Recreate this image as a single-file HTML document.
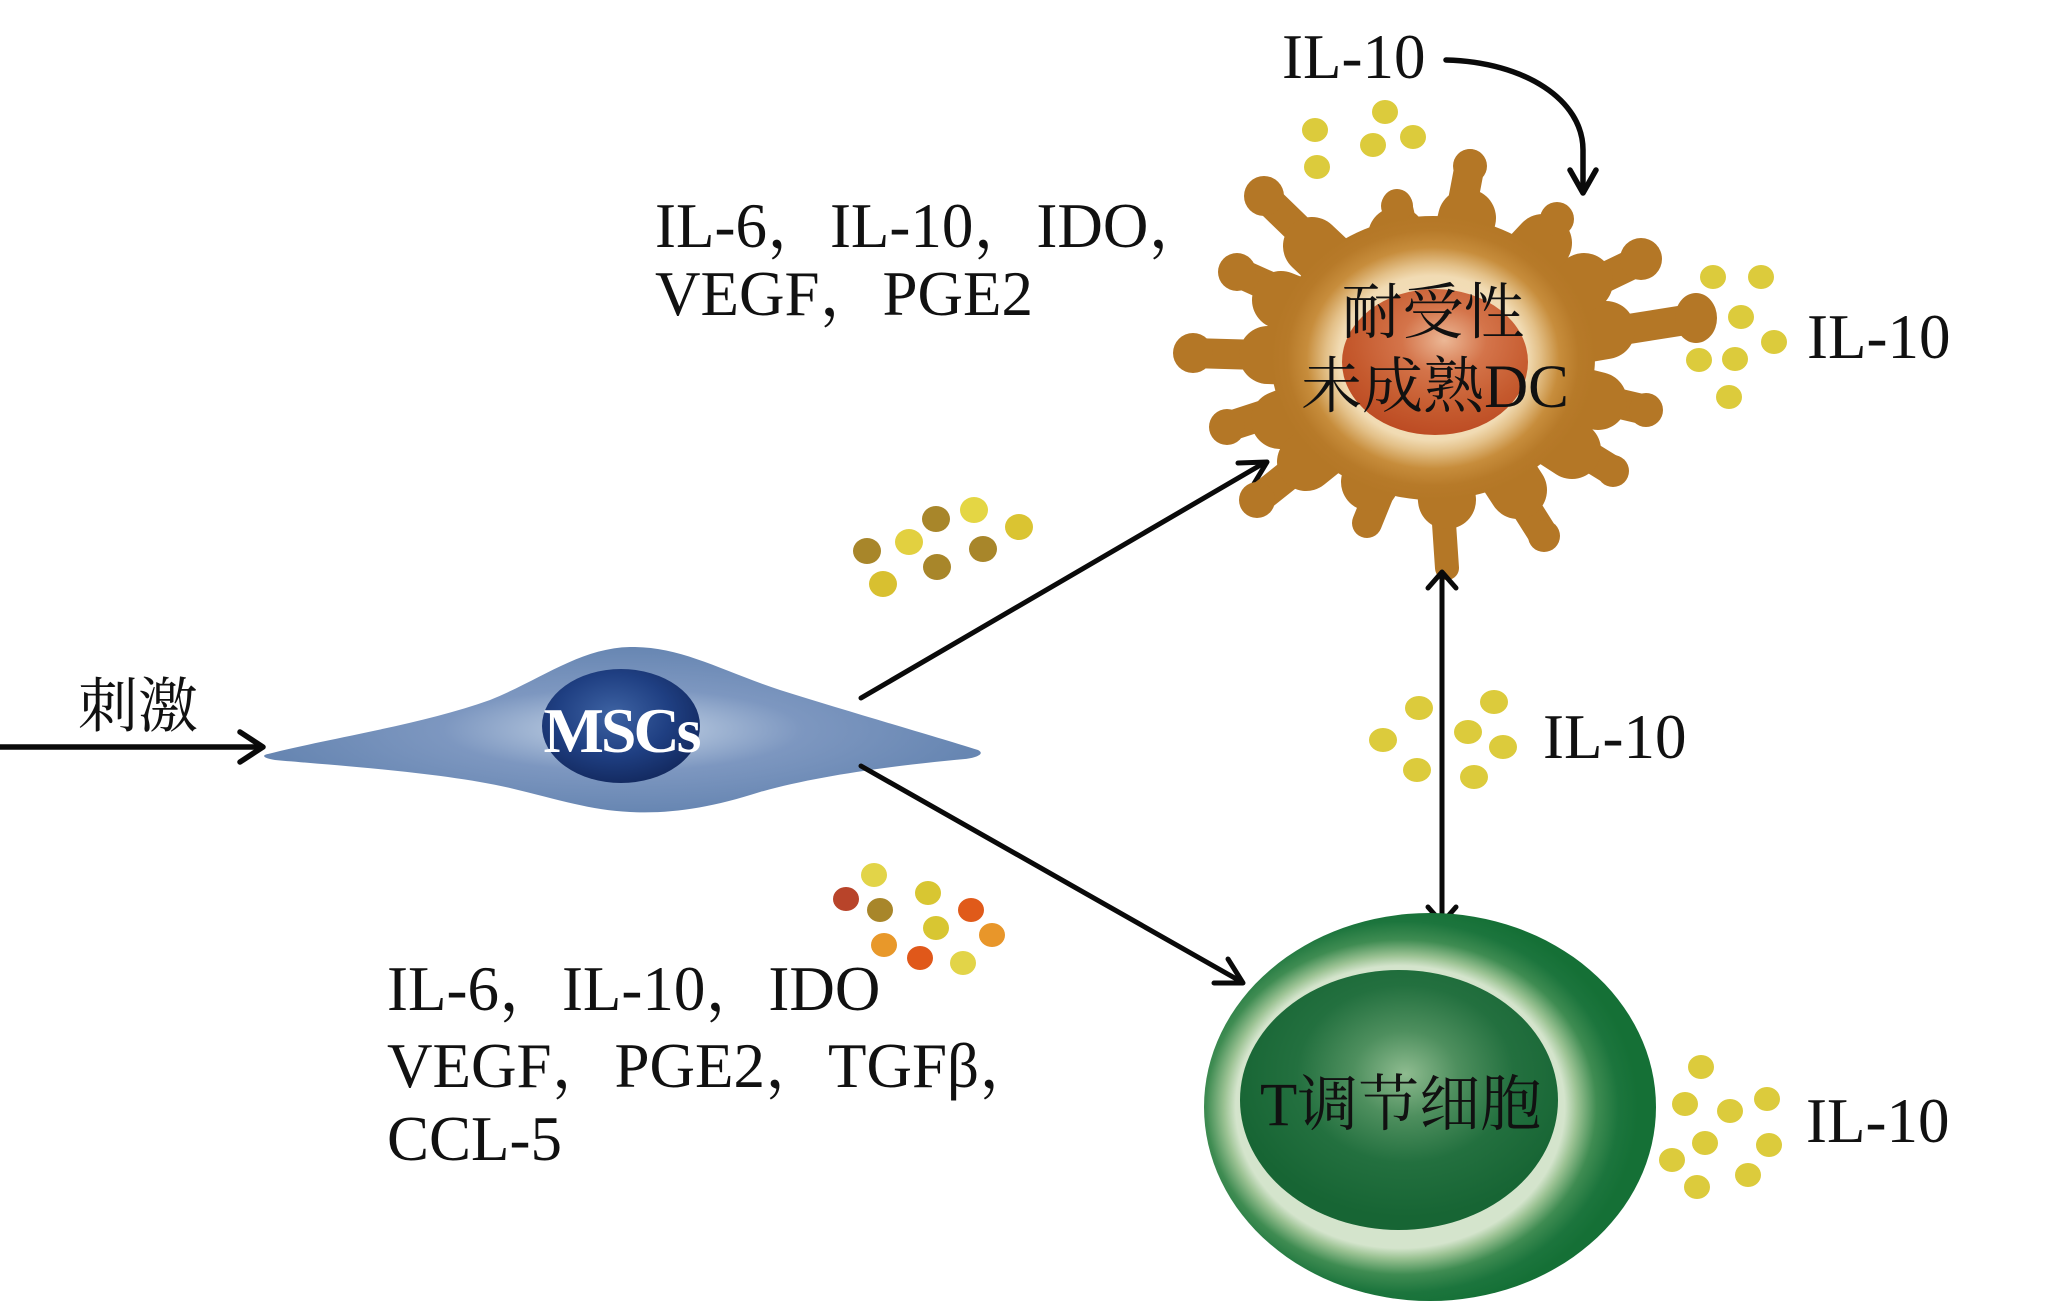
<!DOCTYPE html>
<html>
<head>
<meta charset="utf-8">
<style>
html,body{margin:0;padding:0;background:#fff;}
svg{display:block;}
text{font-family:"Liberation Serif","Noto Serif CJK SC","Noto Serif CJK JP",serif;fill:#111;}
</style>
</head>
<body>
<svg width="2045" height="1314" viewBox="0 0 2045 1314" xmlns="http://www.w3.org/2000/svg">
<defs>
  <radialGradient id="mscBody" cx="0.5" cy="0.5" r="0.5">
    <stop offset="0" stop-color="#c3d0e2"/>
    <stop offset="0.22" stop-color="#a6bad6"/>
    <stop offset="0.5" stop-color="#7d97c0"/>
    <stop offset="1" stop-color="#6786b2"/>
  </radialGradient>
  <radialGradient id="mscNuc" cx="0.45" cy="0.4" r="0.6">
    <stop offset="0" stop-color="#3e63a3"/>
    <stop offset="0.6" stop-color="#1f3f82"/>
    <stop offset="1" stop-color="#142b62"/>
  </radialGradient>
  <radialGradient id="dcBody" cx="0.5" cy="0.5" r="0.5">
    <stop offset="0" stop-color="#f6e8d0"/>
    <stop offset="0.58" stop-color="#f1dbb3"/>
    <stop offset="0.66" stop-color="#e3c088"/>
    <stop offset="0.78" stop-color="#c78d3c"/>
    <stop offset="0.9" stop-color="#b77a29"/>
    <stop offset="1" stop-color="#b47726"/>
  </radialGradient>
  <radialGradient id="dcNuc" cx="0.55" cy="0.35" r="0.65">
    <stop offset="0" stop-color="#ecb896"/>
    <stop offset="0.35" stop-color="#d4744a"/>
    <stop offset="0.75" stop-color="#c55a2e"/>
    <stop offset="1" stop-color="#bd4c24"/>
  </radialGradient>
  <radialGradient id="tOuter" cx="0.44" cy="0.5" r="0.52" fx="0.42" fy="0.5">
    <stop offset="0" stop-color="#d4e4cc"/>
    <stop offset="0.7" stop-color="#d4e4cc"/>
    <stop offset="0.75" stop-color="#9cc394"/>
    <stop offset="0.83" stop-color="#3f8c52"/>
    <stop offset="0.92" stop-color="#1c753d"/>
    <stop offset="1" stop-color="#157036"/>
  </radialGradient>
  <radialGradient id="tNuc" cx="0.52" cy="0.4" r="0.55">
    <stop offset="0" stop-color="#8fbc90"/>
    <stop offset="0.3" stop-color="#4e8f5e"/>
    <stop offset="0.62" stop-color="#23703f"/>
    <stop offset="1" stop-color="#176534"/>
  </radialGradient>
</defs>

<!-- left stimulus arrow -->
<g stroke="#0a0a0a" stroke-width="5.5" fill="none" stroke-linecap="round" stroke-linejoin="round">
  <line x1="0" y1="747" x2="261" y2="747"/>
  <polyline points="240,732 263,747 240,762"/>
</g>
<text x="78" y="727" font-size="60">刺激</text>

<!-- MSC cell -->
<path d="M268,754 C330,738 420,725 490,700 C540,680 580,648 630,647 C680,646 720,670 780,690 C850,712 930,735 978,750 C986,754 975,758 965,759 C900,765 820,775 760,792 C710,808 670,814 630,812 C590,810 560,800 510,788 C440,772 330,765 275,760 C262,758 262,755 268,754 Z" fill="url(#mscBody)"/>
<ellipse cx="621" cy="726" rx="79" ry="57" fill="url(#mscNuc)"/>
<text x="621" y="752" font-size="64" font-weight="bold" text-anchor="middle" letter-spacing="-3" style="fill:#fff">MSCs</text>

<!-- arrows from MSC -->
<g stroke="#0a0a0a" stroke-width="5" fill="none" stroke-linecap="round" stroke-linejoin="round">
  <line x1="861" y1="698" x2="1264" y2="463"/>
  <polyline points="1238,463 1267,462 1252,487"/>
  <line x1="861" y1="766" x2="1240" y2="981"/>
  <polyline points="1214,983 1243,983 1228,959"/>
</g>

<!-- top-left text -->
<text x="655" y="247" font-size="63">IL-6，IL-10，IDO，</text>
<text x="655" y="315" font-size="63">VEGF，PGE2</text>

<!-- bottom-left text -->
<text x="387" y="1010" font-size="63">IL-6，IL-10，IDO</text>
<text x="387" y="1087" font-size="63">VEGF，PGE2，TGFβ，</text>
<text x="387" y="1160" font-size="63">CCL-5</text>

<!-- upper dot cluster -->
<g>
  <ellipse cx="867" cy="551" rx="14" ry="13" fill="#a8862a"/>
  <ellipse cx="909" cy="542" rx="14" ry="13" fill="#e2d040"/>
  <ellipse cx="936" cy="519" rx="14" ry="13" fill="#a8862a"/>
  <ellipse cx="974" cy="510" rx="14" ry="13" fill="#e4d644"/>
  <ellipse cx="1019" cy="527" rx="14" ry="13" fill="#dac432"/>
  <ellipse cx="983" cy="549" rx="14" ry="13" fill="#a8862a"/>
  <ellipse cx="937" cy="567" rx="14" ry="13" fill="#a8862a"/>
  <ellipse cx="883" cy="584" rx="14" ry="13" fill="#d8c030"/>
</g>

<!-- lower dot cluster -->
<g>
  <ellipse cx="874" cy="875" rx="13" ry="12" fill="#e2d448"/>
  <ellipse cx="846" cy="899" rx="13" ry="12" fill="#b8442a"/>
  <ellipse cx="928" cy="893" rx="13" ry="12" fill="#d8c632"/>
  <ellipse cx="880" cy="910" rx="13" ry="12" fill="#a8862a"/>
  <ellipse cx="971" cy="910" rx="13" ry="12" fill="#e05a1a"/>
  <ellipse cx="936" cy="928" rx="13" ry="12" fill="#d8c632"/>
  <ellipse cx="992" cy="935" rx="13" ry="12" fill="#e8962a"/>
  <ellipse cx="884" cy="945" rx="13" ry="12" fill="#e8982a"/>
  <ellipse cx="920" cy="958" rx="13" ry="12" fill="#e0581a"/>
  <ellipse cx="963" cy="963" rx="13" ry="12" fill="#e2d448"/>
</g>

<!-- DC cell dendrites -->
<g stroke="#b47726" stroke-linecap="round" fill="none">
  <g stroke-width="30">
    <line x1="1433" y1="360" x2="1470" y2="164"/>
    <line x1="1433" y1="360" x2="1397" y2="204"/>
    <line x1="1433" y1="360" x2="1264" y2="196"/>
    <line x1="1433" y1="360" x2="1237" y2="272"/>
    <line x1="1433" y1="360" x2="1191" y2="353"/>
    <line x1="1433" y1="360" x2="1227" y2="427"/>
    <line x1="1433" y1="360" x2="1257" y2="500"/>
    <line x1="1433" y1="360" x2="1367" y2="523"/>
    <line x1="1433" y1="360" x2="1447" y2="568" stroke-width="24"/>
    <line x1="1433" y1="360" x2="1544" y2="536"/>
    <line x1="1433" y1="360" x2="1613" y2="471"/>
    <line x1="1433" y1="360" x2="1646" y2="410"/>
    <line x1="1433" y1="360" x2="1698" y2="318"/>
    <line x1="1433" y1="360" x2="1643" y2="259"/>
    <line x1="1433" y1="360" x2="1557" y2="219"/>
  </g>
  <g stroke-width="58">
    <line x1="1433" y1="360" x2="1467" y2="218"/>
    <line x1="1433" y1="360" x2="1397" y2="236"/>
    <line x1="1433" y1="360" x2="1312" y2="246"/>
    <line x1="1433" y1="360" x2="1281" y2="300"/>
    <line x1="1433" y1="360" x2="1268" y2="355"/>
    <line x1="1433" y1="360" x2="1280" y2="420"/>
    <line x1="1433" y1="360" x2="1306" y2="462"/>
    <line x1="1433" y1="360" x2="1370" y2="482"/>
    <line x1="1433" y1="360" x2="1447" y2="500"/>
    <line x1="1433" y1="360" x2="1518" y2="490"/>
    <line x1="1433" y1="360" x2="1572" y2="450"/>
    <line x1="1433" y1="360" x2="1598" y2="401"/>
    <line x1="1433" y1="360" x2="1606" y2="330"/>
    <line x1="1433" y1="360" x2="1584" y2="282"/>
    <line x1="1433" y1="360" x2="1543" y2="243"/>
  </g>
</g>
<g fill="#b47726">
  <circle cx="1470" cy="166" r="17"/>
  <circle cx="1264" cy="196" r="20"/>
  <circle cx="1237" cy="272" r="19"/>
  <circle cx="1193" cy="353" r="20"/>
  <circle cx="1227" cy="427" r="18"/>
  <circle cx="1257" cy="500" r="18"/>
  <circle cx="1544" cy="536" r="16"/>
  <circle cx="1613" cy="471" r="16"/>
  <circle cx="1646" cy="410" r="17"/>
  <ellipse cx="1696" cy="318" rx="21" ry="25"/>
  <circle cx="1641" cy="259" r="21"/>
  <circle cx="1557" cy="219" r="17"/>
  <circle cx="1397" cy="206" r="16"/>
</g>
<ellipse cx="1433" cy="358" rx="162" ry="142" fill="url(#dcBody)"/>
<ellipse cx="1435" cy="362" rx="93" ry="73" fill="url(#dcNuc)"/>
<text x="1433" y="333" font-size="61" text-anchor="middle">耐受性</text>
<text x="1435" y="407" font-size="61" text-anchor="middle">未成熟DC</text>

<!-- top IL-10 with curved arrow -->
<text x="1282" y="78" font-size="63">IL-10</text>
<g stroke="#0a0a0a" stroke-width="5.5" fill="none" stroke-linecap="round" stroke-linejoin="round">
  <path d="M1446,60 C1525,62 1583,100 1583,150 L1583,191"/>
  <polyline points="1570,170 1583,193 1596,170"/>
</g>
<g fill="#dccb3c">
  <ellipse cx="1315" cy="130" rx="13" ry="12"/>
  <ellipse cx="1385" cy="112" rx="13" ry="12"/>
  <ellipse cx="1373" cy="145" rx="13" ry="12"/>
  <ellipse cx="1413" cy="137" rx="13" ry="12"/>
  <ellipse cx="1317" cy="167" rx="13" ry="12"/>
</g>

<!-- right of DC dots + label -->
<g fill="#dccb3c">
  <ellipse cx="1713" cy="277" rx="13" ry="12"/>
  <ellipse cx="1761" cy="277" rx="13" ry="12"/>
  <ellipse cx="1741" cy="317" rx="13" ry="12"/>
  <ellipse cx="1774" cy="342" rx="13" ry="12"/>
  <ellipse cx="1699" cy="360" rx="13" ry="12"/>
  <ellipse cx="1735" cy="359" rx="13" ry="12"/>
  <ellipse cx="1729" cy="397" rx="13" ry="12"/>
</g>
<text x="1807" y="358" font-size="63">IL-10</text>

<!-- vertical double arrow -->
<g stroke="#0a0a0a" stroke-width="5" fill="none" stroke-linecap="round" stroke-linejoin="round">
  <line x1="1442" y1="574" x2="1442" y2="921"/>
  <polyline points="1428,588 1442,572 1456,588"/>
  <polyline points="1428,907 1442,923 1456,907"/>
</g>
<g fill="#dccb3c">
  <ellipse cx="1419" cy="708" rx="14" ry="12"/>
  <ellipse cx="1494" cy="702" rx="14" ry="12"/>
  <ellipse cx="1383" cy="740" rx="14" ry="12"/>
  <ellipse cx="1468" cy="732" rx="14" ry="12"/>
  <ellipse cx="1503" cy="747" rx="14" ry="12"/>
  <ellipse cx="1417" cy="770" rx="14" ry="12"/>
  <ellipse cx="1474" cy="777" rx="14" ry="12"/>
</g>
<text x="1543" y="758" font-size="63">IL-10</text>

<!-- T reg cell -->
<ellipse cx="1430" cy="1107" rx="226" ry="194" fill="url(#tOuter)"/>
<ellipse cx="1399" cy="1100" rx="159" ry="130" fill="url(#tNuc)"/>
<text x="1260" y="1125" font-size="61">T调节细胞</text>

<!-- right of T reg dots + label -->
<g fill="#dccb3c">
  <ellipse cx="1701" cy="1067" rx="13" ry="12"/>
  <ellipse cx="1685" cy="1104" rx="13" ry="12"/>
  <ellipse cx="1730" cy="1111" rx="13" ry="12"/>
  <ellipse cx="1767" cy="1099" rx="13" ry="12"/>
  <ellipse cx="1705" cy="1143" rx="13" ry="12"/>
  <ellipse cx="1769" cy="1145" rx="13" ry="12"/>
  <ellipse cx="1672" cy="1160" rx="13" ry="12"/>
  <ellipse cx="1748" cy="1175" rx="13" ry="12"/>
  <ellipse cx="1697" cy="1187" rx="13" ry="12"/>
</g>
<text x="1806" y="1142" font-size="63">IL-10</text>
</svg>
</body>
</html>
